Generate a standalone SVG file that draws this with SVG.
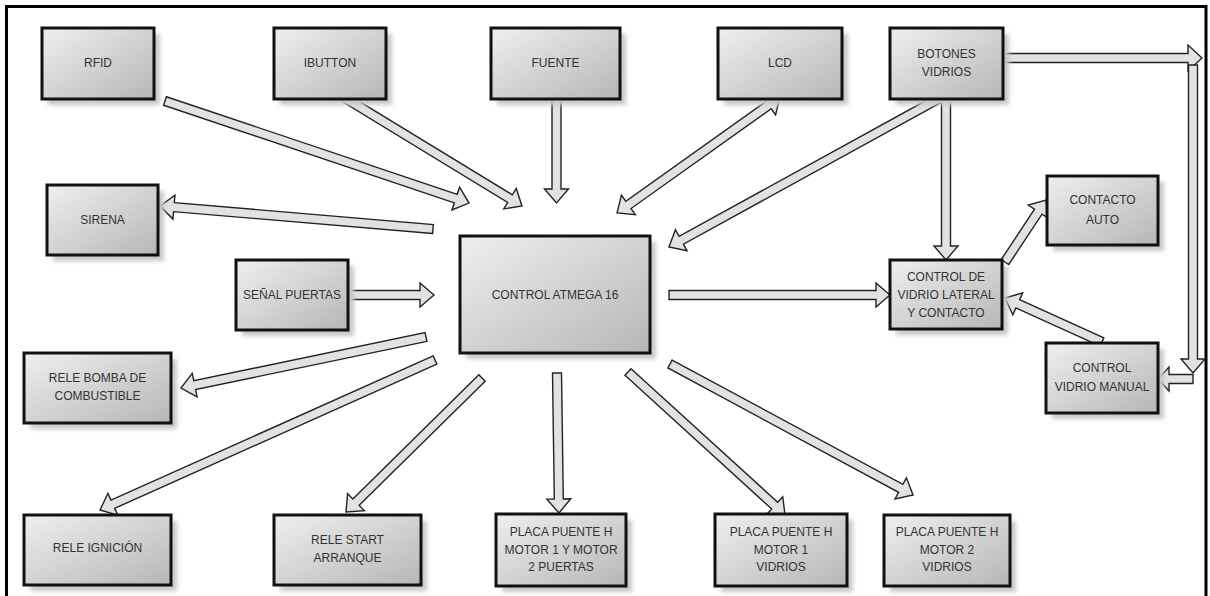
<svg xmlns="http://www.w3.org/2000/svg" width="1210" height="596" viewBox="0 0 1210 596">
<defs>
<linearGradient id="g" x1="0" y1="0" x2="1" y2="1">
<stop offset="0" stop-color="#efefef"/>
<stop offset="1" stop-color="#b6b6b6"/>
</linearGradient>
<filter id="sh" x="-20%" y="-20%" width="140%" height="140%">
<feGaussianBlur stdDeviation="2"/>
</filter>
<style>
.sd{fill:#c8c8c8;filter:url(#sh)}
.bx{fill:url(#g);stroke:#111;stroke-width:3}
.t{font-family:"Liberation Sans",Arial,sans-serif;font-size:12px;fill:#333;text-anchor:middle}
.a{fill:#e2e2e2;stroke:#222;stroke-width:1.4;stroke-linejoin:miter}
</style>
</defs>
<rect width="1210" height="596" fill="#fff"/>
<rect x="6.5" y="6.5" width="1199.5" height="700" fill="none" stroke="#000" stroke-width="3"/>

<g id="connectors">
<path class="a" transform="translate(165,101) rotate(18.55)" d="M0,-4.5 H306.7 V-12 L320.7,0 L306.7,12 V4.5 H0 Z"/>
<path class="a" transform="translate(345,98) rotate(31.39)" d="M0,-4.5 H193.3 V-12 L207.3,0 L193.3,12 V4.5 H0 Z"/>
<path class="a" transform="translate(556.5,99) rotate(90)" d="M0,-4.5 H90 V-12 L104,0 L90,12 V4.5 H0 Z"/>
<path class="a" transform="translate(617,213) rotate(-35.44)" d="M0,0 L14,-12 V-4.5 H186.1 V-12 L200.1,0 L186.1,12 V4.5 H14 V12 Z"/>
<path class="a" transform="translate(940,98) rotate(151.2)" d="M0,-4.5 H295.3 V-12 L309.3,0 L295.3,12 V4.5 H0 Z"/>
<path class="a" transform="translate(433,229) rotate(184.82)" d="M0,-4.5 H260 V-12 L274,0 L260,12 V4.5 H0 Z"/>
<path class="a" transform="translate(348,295)" d="M0,-4.5 H72 V-12 L86,0 L72,12 V4.5 H0 Z"/>
<path class="a" transform="translate(426,337) rotate(168.24)" d="M0,-4.5 H236.3 V-12 L250.3,0 L236.3,12 V4.5 H0 Z"/>
<path class="a" transform="translate(435,360) rotate(155.88)" d="M0,-4.5 H353 V-12 L367,0 L353,12 V4.5 H0 Z"/>
<path class="a" transform="translate(482,378) rotate(135.42)" d="M0,-4.5 H176.9 V-12 L190.9,0 L176.9,12 V4.5 H0 Z"/>
<path class="a" transform="translate(557,373) rotate(89.18)" d="M0,-4.5 H126 V-12 L140,0 L126,12 V4.5 H0 Z"/>
<path class="a" transform="translate(628,372) rotate(42.33)" d="M0,-4.5 H198.4 V-12 L212.4,0 L198.4,12 V4.5 H0 Z"/>
<path class="a" transform="translate(670,364) rotate(28.33)" d="M0,-4.5 H262.1 V-12 L276.1,0 L262.1,12 V4.5 H0 Z"/>
<path class="a" transform="translate(669,295)" d="M0,-4.5 H207 V-12 L221,0 L207,12 V4.5 H0 Z"/>
<path class="a" transform="translate(946,99) rotate(90)" d="M0,-4.5 H147 V-12 L161,0 L147,12 V4.5 H0 Z"/>
<path class="a" transform="translate(1005,262) rotate(-56.52)" d="M0,-4.5 H60.3 V-12 L74.3,0 L60.3,12 V4.5 H0 Z"/>
<path class="a" transform="translate(1102,342) rotate(204.4)" d="M0,-4.5 H92.5 V-12 L106.5,0 L92.5,12 V4.5 H0 Z"/>
<path class="a" transform="translate(1003,58)" d="M0,-4.5 H185 V-13 L199,0 L185,13 V4.5 H0 Z"/>
<path class="a" transform="translate(1193,65) rotate(90)" d="M0,-4.5 H294 V-12 L308,0 L294,12 V4.5 H0 Z"/>
<path class="a" transform="translate(1193,379) rotate(180)" d="M0,-4.5 H24 V-12 L35,0 L24,12 V4.5 H0 Z"/>
</g>

<g id="rfid"><rect class="sd" x="48" y="34" width="112" height="71"/><rect class="bx" x="42" y="28" width="112" height="71"/><text class="t" x="98" y="67">RFID</text></g>
<g id="ibutton"><rect class="sd" x="280" y="34" width="112" height="71"/><rect class="bx" x="274" y="28" width="112" height="71"/><text class="t" x="330" y="67">IBUTTON</text></g>
<g id="fuente"><rect class="sd" x="497" y="34" width="129" height="71"/><rect class="bx" x="491" y="28" width="129" height="71"/><text class="t" x="555.5" y="67">FUENTE</text></g>
<g id="lcd"><rect class="sd" x="724" y="34" width="124" height="71"/><rect class="bx" x="718" y="28" width="124" height="71"/><text class="t" x="780" y="67">LCD</text></g>
<g id="botones"><rect class="sd" x="896" y="34" width="113" height="71"/><rect class="bx" x="890" y="28" width="113" height="71"/><text class="t" x="946.5" y="58">BOTONES</text><text class="t" x="946.5" y="76">VIDRIOS</text></g>
<g id="sirena"><rect class="sd" x="53" y="191" width="111" height="70"/><rect class="bx" x="47" y="185" width="111" height="70"/><text class="t" x="102.5" y="224">SIRENA</text></g>
<g id="senal"><rect class="sd" x="242" y="266" width="112" height="70"/><rect class="bx" x="236" y="260" width="112" height="70"/><text class="t" x="292" y="299">SEÑAL PUERTAS</text></g>
<g id="atmega"><rect class="sd" x="466" y="242" width="190" height="117"/><rect class="bx" x="460" y="236" width="190" height="117"/><text class="t" x="555" y="299">CONTROL ATMEGA 16</text></g>
<g id="bomba"><rect class="sd" x="30" y="359" width="147" height="70"/><rect class="bx" x="24" y="353" width="147" height="70"/><text class="t" x="97.5" y="382">RELE BOMBA DE</text><text class="t" x="97.5" y="400">COMBUSTIBLE</text></g>
<g id="ignicion"><rect class="sd" x="30" y="521" width="147" height="70"/><rect class="bx" x="24" y="515" width="147" height="70"/><text class="t" x="97.5" y="552">RELE IGNICIÓN</text></g>
<g id="start"><rect class="sd" x="280" y="521" width="147" height="70"/><rect class="bx" x="274" y="515" width="147" height="70"/><text class="t" x="347.5" y="544">RELE START</text><text class="t" x="347.5" y="562">ARRANQUE</text></g>
<g id="placa1"><rect class="sd" x="502" y="520" width="130" height="72"/><rect class="bx" x="496" y="514" width="130" height="72"/><text class="t" x="561" y="536">PLACA PUENTE H</text><text class="t" x="561" y="553.5">MOTOR 1 Y MOTOR</text><text class="t" x="561" y="571">2 PUERTAS</text></g>
<g id="placa2"><rect class="sd" x="721" y="520" width="132" height="72"/><rect class="bx" x="715" y="514" width="132" height="72"/><text class="t" x="781" y="536">PLACA PUENTE H</text><text class="t" x="781" y="553.5">MOTOR 1</text><text class="t" x="781" y="571">VIDRIOS</text></g>
<g id="placa3"><rect class="sd" x="890" y="521" width="126" height="71"/><rect class="bx" x="884" y="515" width="126" height="71"/><text class="t" x="947" y="536">PLACA PUENTE H</text><text class="t" x="947" y="554">MOTOR 2</text><text class="t" x="947" y="571">VIDRIOS</text></g>
<g id="contacto"><rect class="sd" x="1053" y="182" width="111" height="69"/><rect class="bx" x="1047" y="176" width="111" height="69"/><text class="t" x="1102.5" y="204">CONTACTO</text><text class="t" x="1102.5" y="224">AUTO</text></g>
<g id="ctrlvidrio"><rect class="sd" x="896" y="266" width="112" height="69"/><rect class="bx" x="890" y="260" width="112" height="69"/><text class="t" x="946" y="281">CONTROL DE</text><text class="t" x="946" y="299">VIDRIO LATERAL</text><text class="t" x="946" y="316.5">Y CONTACTO</text></g>
<g id="manual"><rect class="sd" x="1052" y="349" width="112" height="70"/><rect class="bx" x="1046" y="343" width="112" height="70"/><text class="t" x="1102" y="372">CONTROL</text><text class="t" x="1102" y="391">VIDRIO MANUAL</text></g>
</svg>
